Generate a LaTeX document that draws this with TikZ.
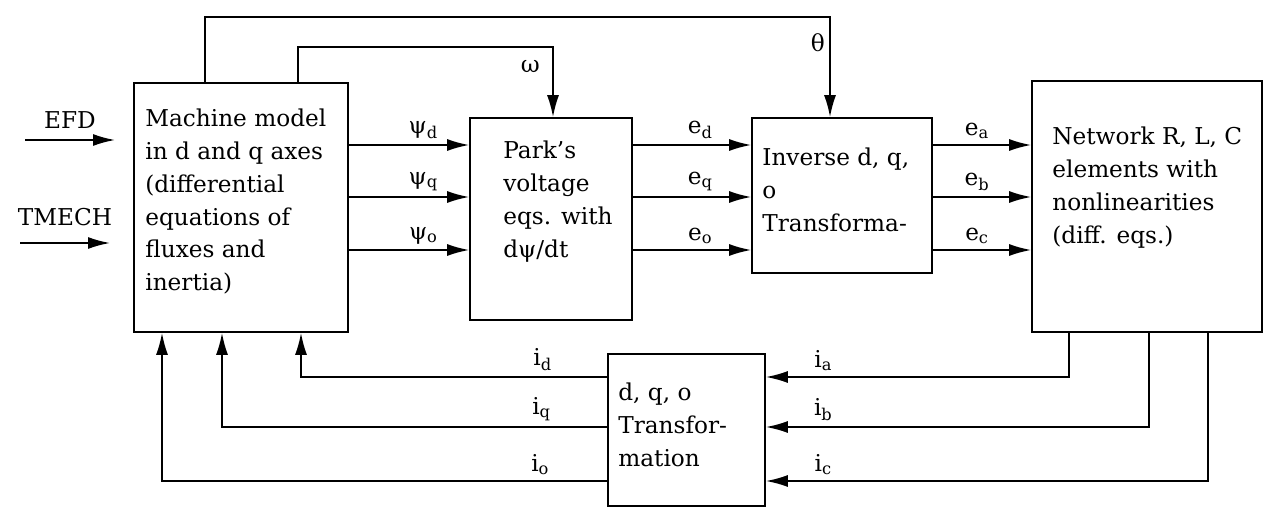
\documentclass[tikz,border=0pt]{standalone}
\usepackage{fontspec}
\setmainfont{DejaVu Serif}
\usetikzlibrary{positioning,arrows.meta,calc}
\newcommand{\bodysize}{\fontsize{13.2pt}{18.6pt}\selectfont}

\begin{document}
\begin{tikzpicture}[
    x=0.2mm, y=-0.2mm,
    blk/.style={draw, line width=1pt, inner sep=0pt},
    txt/.style={anchor=north west, align=left, inner sep=0pt, font=\bodysize},
    lbl/.style={inner sep=0pt, font=\bodysize},
    arr/.style={-{Latex[length=4.4mm,width=2.4mm]}, line width=1pt}
  ]
  \useasboundingbox (0,0) rectangle (1265,509);

  % blocks
  \node[blk, minimum width=4.28cm, minimum height=4.98cm] (mach) at (241,207.5) {};
  \node[blk, minimum width=3.24cm, minimum height=4.04cm] (park) at (551,219) {};
  \node[blk, minimum width=3.60cm, minimum height=3.10cm] (inv) at (842,195.5) {};
  \node[blk, minimum width=4.60cm, minimum height=5.02cm] (net) at (1147,206.5) {};
  \node[blk, minimum width=3.14cm, minimum height=3.04cm] (dqo) at (686.5,430) {};

  % block texts
  \node[txt] (machtxt) at (145,109) {Machine model\\in d and q axes\\(differential\\equations of\\fluxes and\\inertia)};
  \node[txt] (parktxt) at (503,141) {Park’s\\voltage\\eqs. with\\dψ/dt};
  \node[txt] (invtxt) at (762,148) {Inverse d, q,\\o\\Transforma-};
  \node[txt] (nettxt) at (1052,127) {Network R, L, C\\elements with\\nonlinearities\\(diff. eqs.)};
  \node[txt] (dqotxt) at (618,383) {d, q, o\\Transfor-\\mation};

  % rows and turning points
  \coordinate (r1) at (0,145);
  \coordinate (r2) at (0,197);
  \coordinate (r3) at (0,250);
  \coordinate (efdA) at (25,140);
  \coordinate (efdB) at (115,140);
  \coordinate (tmA) at (20,243);
  \coordinate (tmB) at (110,243);
  \coordinate (tl) at (205,17);
  \coordinate (tr) at (830,17);
  \coordinate (wl) at (298,47);
  \coordinate (wr) at (553,47);
  \coordinate (cd) at (301,377);
  \coordinate (cq) at (222,427);
  \coordinate (co) at (162,481);
  \coordinate (ca) at (1069,377);
  \coordinate (cb) at (1149,427);
  \coordinate (cc) at (1208,481);

  % inputs
  \draw[arr] (efdA) -- node[lbl, above=6pt] (lefd) {EFD} (efdB);
  \draw[arr] (tmA) -- node[lbl, above=9pt] (ltm) {TMECH} (tmB);

  % forward path
  \foreach \r/\k/\m in {r1/d/a, r2/q/b, r3/o/c} {
    \draw[arr] (mach.east |- \r) -- node[lbl, pos=0.62, above=3pt] (lpsi\k) {ψ\textsubscript{\k}} (park.west |- \r);
    \draw[arr] (park.east |- \r) -- node[lbl, pos=0.57, above=3pt] (le\k) {e\textsubscript{\k}} (inv.west |- \r);
    \draw[arr] (inv.east |- \r) -- node[lbl, pos=0.45, above=3pt] (le\m) {e\textsubscript{\m}} (net.west |- \r);
  }

  % speed and angle
  \draw[arr] (mach.north -| tl) -- (tl) -- (tr) -- node[lbl, pos=0.26, left=2.5pt] (lth) {θ} (inv.north -| tr);
  \draw[arr] (mach.north -| wl) -- (wl) -- (wr) -- node[lbl, pos=0.28, left=7pt] (lom) {ω} (park.north -| wr);

  % currents back
  \foreach \c/\m/\p in {ca/a/0.81, cb/b/0.85, cc/c/0.87}
    \draw[arr] (net.south -| \c) -- (\c) -- node[lbl, pos=\p, above=3pt] (li\m) {i\textsubscript{\m}} (dqo.east |- \c);
  \foreach \c/\k/\p in {cd/d/0.21, cq/q/0.17, co/o/0.15}
    \draw[arr] (dqo.west |- \c) -- node[lbl, pos=\p, above=3pt] (li\k) {i\textsubscript{\k}} (\c) -- (mach.south -| \c);
\end{tikzpicture}
\end{document}
